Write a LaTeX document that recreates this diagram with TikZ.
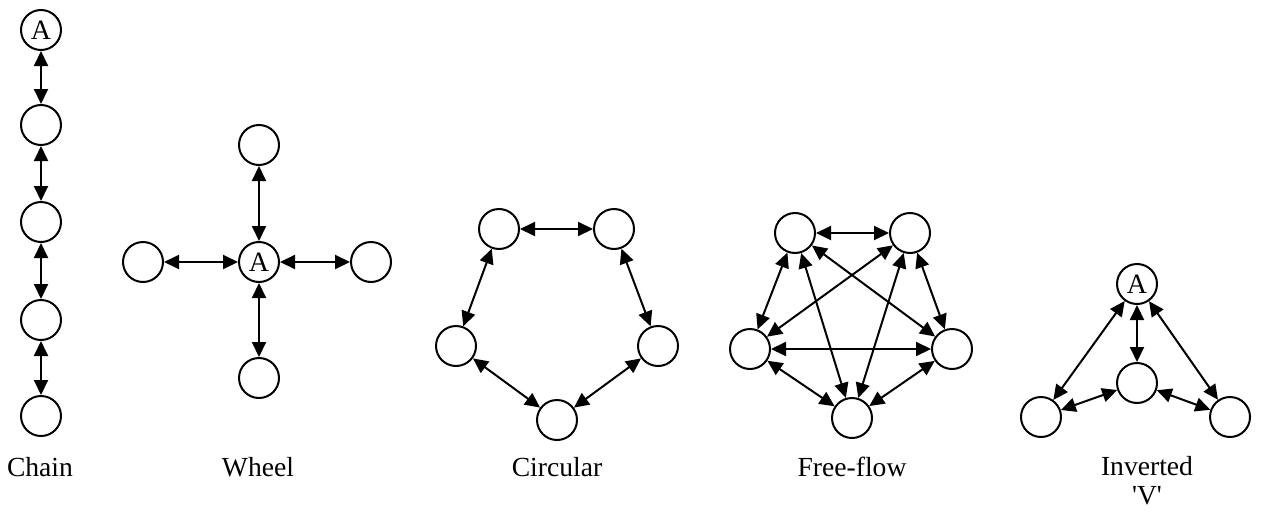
\documentclass[tikz,border=0pt]{standalone}
\usepackage{fontspec}
\setmainfont{Liberation Serif}
\usetikzlibrary{arrows.meta}
\begin{document}
\begin{tikzpicture}[x=0.5pt,y=-0.5pt,
  nd/.style={circle,draw,line width=1pt,minimum size=20pt,inner sep=0pt,font=\fontsize{14}{15}\selectfont},
  lnk/.style={line width=1pt,{Triangle[length=7.5pt,width=7pt]}-{Triangle[length=7.5pt,width=7pt]}},
  lbl/.style={font=\fontsize{13.8}{14.5}\selectfont,align=center}]
\useasboundingbox (0,0) rectangle (1262,514);
% Chain
\node[nd] (c1) at (41,30) {A};
\node[nd] (c2) at (41,125) {};
\node[nd] (c3) at (41,222) {};
\node[nd] (c4) at (41,320) {};
\node[nd] (c5) at (41,416) {};
\draw[lnk] (c1) -- (c2);
\draw[lnk] (c2) -- (c3);
\draw[lnk] (c3) -- (c4);
\draw[lnk] (c4) -- (c5);
\node[lbl] (lc) at (40,467) {Chain};
% Wheel
\node[nd] (wa) at (259,262) {A};
\node[nd] (wt) at (259,145) {};
\node[nd] (wb) at (259,378) {};
\node[nd] (wl) at (143,262) {};
\node[nd] (wr) at (371,262) {};
\draw[lnk] (wa) -- (wt);
\draw[lnk] (wa) -- (wb);
\draw[lnk] (wa) -- (wl);
\draw[lnk] (wa) -- (wr);
\node[lbl] (lw) at (258,467) {Wheel};
% Circular
\node[nd] (ctl) at (499,229) {};
\node[nd] (ctr) at (614,229) {};
\node[nd] (cl) at (456,346) {};
\node[nd] (cr) at (658,346) {};
\node[nd] (cb) at (557,420) {};
\draw[lnk] (ctl) -- (ctr);
\draw[lnk] (ctr) -- (cr);
\draw[lnk] (cr) -- (cb);
\draw[lnk] (cb) -- (cl);
\draw[lnk] (cl) -- (ctl);
\node[lbl] (lci) at (557,467) {Circular};
% Free-flow
\node[nd] (ftl) at (795,233) {};
\node[nd] (ftr) at (910,233) {};
\node[nd] (fl) at (750,349) {};
\node[nd] (fr) at (952,349) {};
\node[nd] (fb) at (852,418) {};
\draw[lnk] (ftl) -- (ftr);
\draw[lnk] (ftl) -- (fl);
\draw[lnk] (ftl) -- (fr);
\draw[lnk] (ftl) -- (fb);
\draw[lnk] (ftr) -- (fl);
\draw[lnk] (ftr) -- (fr);
\draw[lnk] (ftr) -- (fb);
\draw[lnk] (fl) -- (fr);
\draw[lnk] (fl) -- (fb);
\draw[lnk] (fr) -- (fb);
\node[lbl] (lf) at (852,467) {Free-flow};
% Inverted V
\node[nd] (va) at (1137,284) {A};
\node[nd] (vm) at (1137,383) {};
\node[nd] (vl) at (1041,417) {};
\node[nd] (vr) at (1230,417) {};
\draw[lnk] (va) -- (vl);
\draw[lnk] (va) -- (vm);
\draw[lnk] (va) -- (vr);
\draw[lnk] (vm) -- (vl);
\draw[lnk] (vm) -- (vr);
\node[lbl] (lv) at (1147,481) {Inverted\\\textquotesingle V\textquotesingle};
\end{tikzpicture}
\end{document}
